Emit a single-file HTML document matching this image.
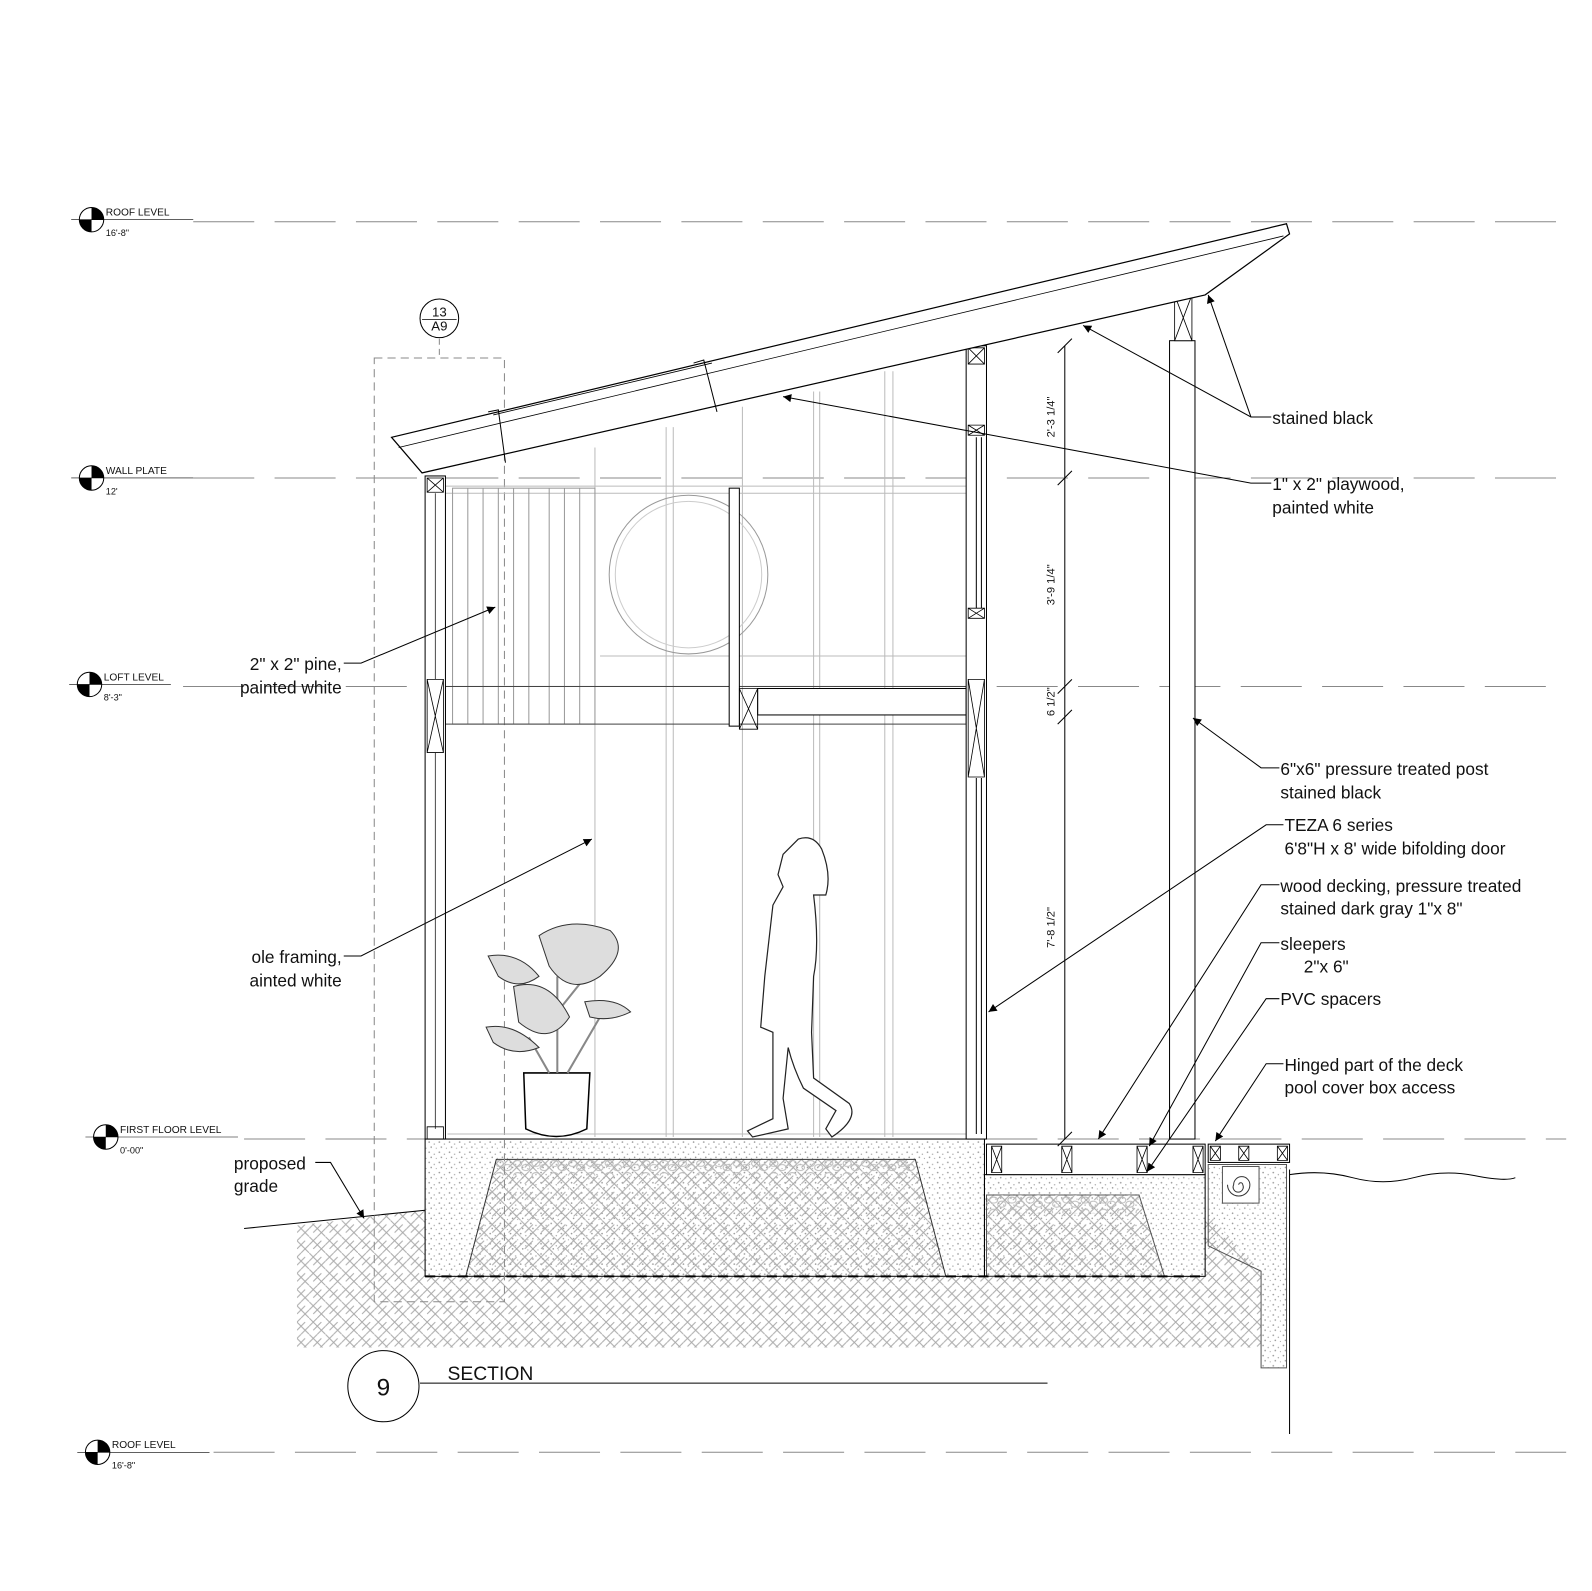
<!DOCTYPE html>
<html><head><style>
html,body{margin:0;padding:0;background:#fff}
svg{display:block}
text{font-family:"Liberation Sans",sans-serif;fill:#111}
</style></head><body>
<svg width="1592" height="1591" viewBox="0 0 1592 1591" xmlns="http://www.w3.org/2000/svg">
<defs>
<pattern id="hb" width="16" height="16" patternUnits="userSpaceOnUse">
<path d="M0 8 L8 0 M4 12 L12 4 M8 16 L16 8 M0 0 L8 8 M8 8 L16 16" stroke="#aaa" stroke-width="1" fill="none"/>
</pattern>
<pattern id="conc" width="10" height="10" patternUnits="userSpaceOnUse">
<circle cx="2" cy="3" r="0.8" fill="#999"/><circle cx="7" cy="5" r="0.7" fill="#aaa"/><circle cx="4" cy="8" r="0.8" fill="#999"/><circle cx="9" cy="9" r="0.6" fill="#aaa"/>
</pattern>
<pattern id="grav" width="18" height="12" patternUnits="userSpaceOnUse">
<ellipse cx="5" cy="4" rx="4" ry="3" fill="none" stroke="#bbb"/><ellipse cx="13" cy="8" rx="4" ry="3" fill="none" stroke="#bbb"/>
</pattern>
<marker id="ar" viewBox="0 0 10 10" refX="10" refY="5" markerWidth="14" markerHeight="8" orient="auto-start-reverse" markerUnits="userSpaceOnUse"><path d="M0 0 L10 5 L0 10z" fill="#000"/></marker>
</defs>
<g transform="scale(1.017)">
<!-- level lines -->
<g stroke="#888" stroke-width="1" stroke-dasharray="60,20">
<line x1="190" y1="218" x2="1540" y2="218"/>
<line x1="190" y1="470" x2="1540" y2="470"/>
<line x1="180" y1="675" x2="1540" y2="675"/>
<line x1="240" y1="1120" x2="1540" y2="1120"/>
<line x1="210" y1="1428" x2="1540" y2="1428"/>
</g>
<g font-size="10">
<g transform="translate(90,216)"><circle r="12" fill="#fff" stroke="#000"/><path d="M0 0 L12 0 A12 12 0 0 0 0 -12Z M0 0 L-12 0 A12 12 0 0 0 0 12Z" fill="#000"/><line x1="-20" y1="0" x2="100" y2="0" stroke="#000" stroke-width=".6"/><text x="14" y="-4">ROOF LEVEL</text><text x="14" y="16" font-size="9">16'-8"</text></g>
<g transform="translate(90,470)"><circle r="12" fill="#fff" stroke="#000"/><path d="M0 0 L12 0 A12 12 0 0 0 0 -12Z M0 0 L-12 0 A12 12 0 0 0 0 12Z" fill="#000"/><line x1="-20" y1="0" x2="100" y2="0" stroke="#000" stroke-width=".6"/><text x="14" y="-4">WALL PLATE</text><text x="14" y="16" font-size="9">12'</text></g>
<g transform="translate(88,673)"><circle r="12" fill="#fff" stroke="#000"/><path d="M0 0 L12 0 A12 12 0 0 0 0 -12Z M0 0 L-12 0 A12 12 0 0 0 0 12Z" fill="#000"/><line x1="-20" y1="0" x2="80" y2="0" stroke="#000" stroke-width=".6"/><text x="14" y="-4">LOFT LEVEL</text><text x="14" y="16" font-size="9">8'-3"</text></g>
<g transform="translate(104,1118)"><circle r="12" fill="#fff" stroke="#000"/><path d="M0 0 L12 0 A12 12 0 0 0 0 -12Z M0 0 L-12 0 A12 12 0 0 0 0 12Z" fill="#000"/><line x1="-20" y1="0" x2="130" y2="0" stroke="#000" stroke-width=".6"/><text x="14" y="-4">FIRST FLOOR LEVEL</text><text x="14" y="16" font-size="9">0'-00"</text></g>
<g transform="translate(96,1428)"><circle r="12" fill="#fff" stroke="#000"/><path d="M0 0 L12 0 A12 12 0 0 0 0 -12Z M0 0 L-12 0 A12 12 0 0 0 0 12Z" fill="#000"/><line x1="-20" y1="0" x2="110" y2="0" stroke="#000" stroke-width=".6"/><text x="14" y="-4">ROOF LEVEL</text><text x="14" y="16" font-size="9">16'-8"</text></g>
</g>

<!-- ground -->
<path d="M292 1205 L418 1190 L418 1255 L1185 1255 L1185 1190 L1240 1250 L1240 1325 L292 1325Z" fill="url(#hb)"/>
<rect x="418" y="1120" width="550" height="135" fill="url(#conc)" stroke="#000"/>
<path d="M488 1140 L900 1140 L930 1255 L458 1255Z" fill="url(#hb)" stroke="#333"/>
<rect x="488" y="1140" width="412" height="16" fill="url(#grav)"/>
<rect x="968" y="1155" width="217" height="100" fill="url(#conc)" stroke="#000"/>
<path d="M970 1175 L1120 1175 L1145 1255 L970 1255Z" fill="url(#hb)" stroke="#555"/>
<rect x="970" y="1175" width="150" height="18" fill="url(#grav)"/>
<line x1="418" y1="1255" x2="1185" y2="1255" stroke="#000" stroke-width="2" stroke-dasharray="10,6"/>
<path d="M1188 1145 L1265 1145 L1265 1345 L1240 1345 L1240 1250 L1188 1225Z" fill="url(#conc)" stroke="#555"/>
<line x1="1268" y1="1150" x2="1268" y2="1410" stroke="#000"/>
<path d="M1268 1155 Q1300 1150 1330 1158 T1390 1158 T1450 1156 T1490 1158" fill="none" stroke="#000"/>
<line x1="240" y1="1208" x2="418" y2="1190" stroke="#000"/>
<rect x="1202" y="1147" width="36" height="36" fill="#fff" stroke="#555"/>
<path d="M1220 1165 m-2 0 a2 2 0 1 1 4 0 a5 5 0 1 1 -9 0 a8 8 0 1 1 16 0 a11 11 0 1 1 -22 0" fill="none" stroke="#333"/>

<!-- deck -->
<rect x="970" y="1125" width="215" height="30" fill="#fff" stroke="#000"/>
<rect x="1188" y="1125" width="80" height="18" fill="#fff" stroke="#000"/>
<g stroke="#000" stroke-width=".8" fill="none">
<path d="M975 1127h10v26h-10z M975 1127l10 26 M985 1127l-10 26"/>
<path d="M1044 1127h10v26h-10z M1044 1127l10 26 M1054 1127l-10 26"/>
<path d="M1118 1127h10v26h-10z M1118 1127l10 26 M1128 1127l-10 26"/>
<path d="M1173 1127h10v26h-10z M1173 1127l10 26 M1183 1127l-10 26"/>
<path d="M1190 1127h10v14h-10z M1190 1127l10 14 M1200 1127l-10 14"/>
<path d="M1218 1127h10v14h-10z M1218 1127l10 14 M1228 1127l-10 14"/>
<path d="M1256 1127h10v14h-10z M1256 1127l10 14 M1266 1127l-10 14"/>
</g>

<!-- dashed callout box -->
<rect x="368" y="352" width="128" height="928" fill="none" stroke="#888" stroke-dasharray="8,5"/>
<line x1="432" y1="333" x2="432" y2="352" stroke="#888" stroke-dasharray="6,4"/>
<circle cx="432" cy="313" r="19" fill="#fff" stroke="#000"/>
<line x1="415" y1="314" x2="449" y2="314" stroke="#000" stroke-width=".7"/>
<text x="432" y="311" font-size="13" text-anchor="middle">13</text>
<text x="432" y="325" font-size="13" text-anchor="middle">A9</text>

<!-- interior framing light lines -->
<g stroke="#bbb" stroke-width="1">
<line x1="585" y1="440" x2="585" y2="1118"/><line x1="655" y1="420" x2="655" y2="1118"/><line x1="662" y1="420" x2="662" y2="1118"/>
<line x1="730" y1="400" x2="730" y2="1118"/><line x1="800" y1="385" x2="800" y2="1118"/><line x1="806" y1="385" x2="806" y2="1118"/>
<line x1="870" y1="365" x2="870" y2="1118"/><line x1="878" y1="365" x2="878" y2="1118"/>
<line x1="438" y1="478" x2="950" y2="478"/><line x1="438" y1="485" x2="950" y2="485"/>
<line x1="590" y1="645" x2="950" y2="645"/>
<line x1="440" y1="1115" x2="950" y2="1115"/>
</g>
<g stroke="#999" fill="none">
<rect x="445" y="480" width="140" height="232"/>
<line x1="460" y1="480" x2="460" y2="712"/><line x1="475" y1="480" x2="475" y2="712"/><line x1="490" y1="480" x2="490" y2="712"/><line x1="505" y1="480" x2="505" y2="712"/><line x1="520" y1="480" x2="520" y2="712"/><line x1="540" y1="480" x2="540" y2="712"/><line x1="555" y1="480" x2="555" y2="712"/><line x1="570" y1="480" x2="570" y2="712"/>
<circle cx="677" cy="565" r="78"/><circle cx="677" cy="565" r="72" stroke="#ccc"/>
</g>
<!-- loft floor -->
<rect x="438" y="675" width="512" height="37" fill="none" stroke="#444"/>
<rect x="745" y="677" width="205" height="26" fill="#fff" stroke="#000"/>
<rect x="717" y="480" width="10" height="234" fill="#fff" stroke="#000"/>
<path d="M727 677h18v40h-18z M727 677l18 40 M745 677l-18 40" stroke="#000" fill="none" stroke-width=".8"/>

<!-- walls -->
<rect x="418" y="468" width="20" height="652" fill="#fff" stroke="#000"/>
<line x1="428" y1="485" x2="428" y2="668" stroke="#000" stroke-width=".7"/>
<line x1="428" y1="740" x2="428" y2="1110" stroke="#000" stroke-width=".7"/>
<g stroke="#000" stroke-width=".8" fill="none">
<path d="M420 470h16v14h-16z M420 470l16 14 M436 470l-16 14"/>
<path d="M420 668h16v72h-16z M420 668l16 72 M436 668l-16 72"/>
<path d="M420 1108h16v12h-16z"/>
</g>
<rect x="950" y="340" width="20" height="780" fill="#fff" stroke="#000"/>
<line x1="960" y1="430" x2="960" y2="598" stroke="#000"/><line x1="965" y1="430" x2="965" y2="598" stroke="#000"/>
<line x1="960" y1="765" x2="960" y2="1115" stroke="#000"/><line x1="965" y1="765" x2="965" y2="1115" stroke="#000"/>
<g stroke="#000" stroke-width=".8" fill="none">
<path d="M952 342h16v16h-16z M952 342l16 16 M968 342l-16 16"/>
<path d="M952 418h16v10h-16z M952 418l16 10 M968 418l-16 10"/>
<path d="M952 598h16v10h-16z M952 598l16 10 M968 598l-16 10"/>
<path d="M952 668h16v96h-16z M952 668l16 96 M968 668l-16 96"/>
</g>
<!-- post -->
<rect x="1150" y="335" width="25" height="785" fill="#fff" stroke="#000"/>
<path d="M1155 290h17v45h-17z M1155 290l17 45 M1172 290l-17 45" stroke="#000" fill="#fff" stroke-width=".8"/>

<!-- roof -->
<path d="M385 430 L1265 220 L1268 230 L1185 290 L415 465 Z" fill="#fff" stroke="#000" stroke-width="1.2"/>
<line x1="392" y1="440" x2="1262" y2="232" stroke="#000" stroke-width=".8"/>
<line x1="485" y1="408" x2="700" y2="357" stroke="#000" stroke-width=".8"/>
<path d="M480 405 L490 403 L497 455 M682 357 L692 354 L705 405" stroke="#000" fill="none"/>

<!-- dimension line -->
<line x1="1047" y1="340" x2="1047" y2="1120" stroke="#000"/>
<g stroke="#000"><line x1="1040" y1="347" x2="1054" y2="333"/><line x1="1040" y1="477" x2="1054" y2="463"/><line x1="1040" y1="682" x2="1054" y2="668"/><line x1="1040" y1="712" x2="1054" y2="698"/><line x1="1040" y1="1127" x2="1054" y2="1113"/></g>
<g font-size="11">
<text transform="translate(1037,410) rotate(-90)" text-anchor="middle">2'-3 1/4"</text>
<text transform="translate(1037,575) rotate(-90)" text-anchor="middle">3'-9 1/4"</text>
<text transform="translate(1037,690) rotate(-90)" text-anchor="middle">6 1/2"</text>
<text transform="translate(1037,912) rotate(-90)" text-anchor="middle">7'-8 1/2"</text>
</g>

<!-- plant -->
<path d="M515 1055 L580 1055 L577 1110 Q547 1125 517 1110 Z" fill="#fff" stroke="#000" stroke-width="1.5"/>
<path d="M548 1055 L548 960 M540 1055 L520 1020 M558 1055 L590 1000 M545 1000 L500 950 M552 990 L600 930" stroke="#888" fill="none" stroke-width="2"/>
<path d="M530 920 Q560 900 600 915 Q620 935 590 960 Q560 980 540 950Z M480 940 Q510 935 530 960 Q510 975 490 960Z M575 985 Q605 980 620 995 Q600 1005 580 1000Z M478 1010 Q505 1005 530 1030 Q505 1040 485 1025Z M505 970 Q540 960 560 1000 Q540 1030 510 1005Z" fill="#ddd" stroke="#333"/>
<!-- person -->
<path d="M785 825 Q800 820 808 835 Q818 860 812 880 L800 880 Q806 930 800 960 L798 1015 L800 1060 L835 1085 Q845 1100 818 1118 L812 1110 L822 1092 L790 1070 Q780 1050 775 1030 L770 1080 L775 1110 L740 1118 L735 1112 L760 1100 L760 1015 L748 1010 L752 960 L760 890 L770 872 L765 860 L770 840 Z" fill="#fff" stroke="#222" stroke-width="1.2"/>

<!-- leaders -->
<g stroke="#000" stroke-width="1" fill="none">
<path d="M1250 410 L1230 410 L1065 320" marker-end="url(#ar)"/>
<path d="M1230 410 L1188 290" marker-end="url(#ar)"/>
<path d="M1250 475 L1230 475 L770 390" marker-end="url(#ar)"/>
<path d="M1258 755 L1240 755 L1173 706" marker-end="url(#ar)"/>
<path d="M1262 811 L1245 811 L972 995" marker-end="url(#ar)"/>
<path d="M1258 870 L1240 870 L1080 1120" marker-end="url(#ar)"/>
<path d="M1258 927 L1240 927 L1130 1127" marker-end="url(#ar)"/>
<path d="M1258 982 L1245 982 L1128 1152" marker-end="url(#ar)"/>
<path d="M1262 1046 L1245 1046 L1195 1122" marker-end="url(#ar)"/>
<path d="M338 652 L355 652 L487 597" marker-end="url(#ar)"/>
<path d="M338 940 L355 940 L582 825" marker-end="url(#ar)"/>
<path d="M310 1143 L325 1143 L358 1198" marker-end="url(#ar)"/>
</g>
<g font-size="17">
<text x="1251" y="417">stained black</text>
<text x="1251" y="482">1" x 2" playwood,</text><text x="1251" y="505">painted white</text>
<text x="1259" y="762">6"x6" pressure treated post</text><text x="1259" y="785">stained black</text>
<text x="1263" y="817">TEZA 6 series</text><text x="1263" y="840">6'8"H x 8' wide bifolding door</text>
<text x="1259" y="877">wood decking, pressure treated</text><text x="1259" y="899">stained dark gray 1"x 8"</text>
<text x="1259" y="934">sleepers</text><text x="1282" y="956">2"x 6"</text>
<text x="1259" y="988">PVC spacers</text>
<text x="1263" y="1053">Hinged part of the deck</text><text x="1263" y="1075">pool cover box access</text>
<text x="336" y="659" text-anchor="end">2" x 2" pine,</text><text x="336" y="682" text-anchor="end">painted white</text>
<text x="336" y="947" text-anchor="end">ole framing,</text><text x="336" y="970" text-anchor="end">ainted white</text>
<text x="230" y="1150">proposed</text><text x="230" y="1172">grade</text>
</g>

<!-- section title -->
<circle cx="377" cy="1363" r="35" fill="#fff" stroke="#000"/>
<text x="377" y="1372" font-size="24" text-anchor="middle">9</text>
<text x="440" y="1357" font-size="19">SECTION</text>
<line x1="413" y1="1360" x2="1030" y2="1360" stroke="#000"/>
</g>
</svg>
</body></html>
